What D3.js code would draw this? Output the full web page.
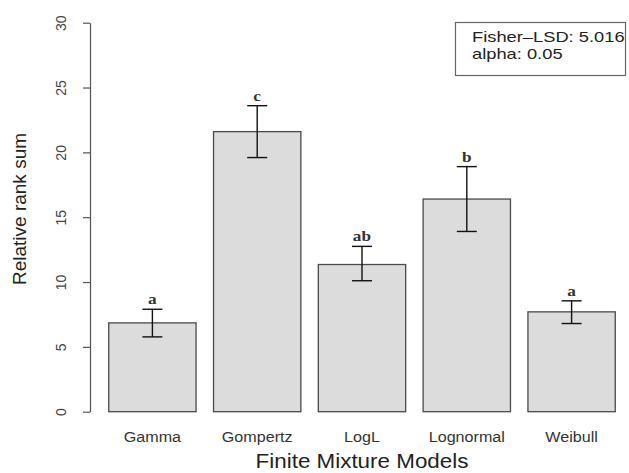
<!DOCTYPE html>
<html>
<head>
<meta charset="utf-8">
<script src="https://cdn.jsdelivr.net/npm/d3@7"></script>
<style>
  body { margin: 0; background: #fff; }
  svg { display: block; }
</style>
</head>
<body>
<svg id="chart" width="629" height="473"></svg>
<script>
// data
const models = ["Gamma", "Gompertz", "LogL", "Lognormal", "Weibull"];
const rankSum = [6.85, 21.6, 11.35, 16.4, 7.7];
const errLow = [5.77, 19.6, 10.1, 13.9, 6.8];
const errHigh = [7.9, 23.6, 12.75, 18.9, 8.55];
const groups = ["a", "c", "ab", "b", "a"];
const yTicks = [0, 5, 10, 15, 20, 25, 30];
const legendLines = ["Fisher\u2013LSD: 5.016", "alpha: 0.05"];

const sans = "Liberation Sans, Arial, Helvetica, sans-serif";
const svg = d3.select("#chart");

// the source picture has slightly wide glyphs, stretch text along its baseline
const widen = (sel, k) => sel.each(function () {
    const len = this.getComputedTextLength();
    d3.select(this).attr("textLength", len * k).attr("lengthAdjust", "spacingAndGlyphs");
});

const x = d3.scaleBand()
    .domain(models)
    .range([100, 624])
    .paddingInner(0.2 / 1.2)
    .paddingOuter(0.1 / 1.2);

const y = d3.scaleLinear()
    .domain([0, 30])
    .range([411.7, 22.7]);

const rows = models.map((m, i) => ({
    model: m, value: rankSum[i], lo: errLow[i], hi: errHigh[i], grp: groups[i]
}));

// y axis, R style: line only across tick range, rotated labels
const yAxis = svg.append("g")
    .attr("transform", "translate(90,0)")
    .call(d3.axisLeft(y).tickValues(yTicks).tickSize(7).tickSizeOuter(0));
yAxis.select(".domain").attr("stroke", "#555").attr("stroke-width", 1.2);
yAxis.selectAll(".tick line").attr("stroke", "#555").attr("stroke-width", 1.2);
yAxis.selectAll(".tick text")
    .attr("font-family", sans)
    .attr("font-size", 14)
    .attr("fill", "#444")
    .attr("x", null)
    .attr("text-anchor", "middle")
    .attr("transform", "translate(-29,0) rotate(-90)")
    .attr("dy", "0.35em");

svg.append("text")
    .attr("transform", "translate(26,209) rotate(-90)")
    .attr("text-anchor", "middle")
    .attr("font-family", sans)
    .attr("font-size", 19)
    .attr("fill", "#222")
    .text("Relative rank sum");

// bars
svg.append("g").selectAll("rect")
    .data(rows)
    .join("rect")
    .attr("x", d => x(d.model))
    .attr("y", d => y(d.value))
    .attr("width", x.bandwidth())
    .attr("height", d => y(0) - y(d.value))
    .attr("fill", "#dcdcdc")
    .attr("stroke", "#4a4a4a")
    .attr("stroke-width", 1.3);

// error bars
const eb = svg.append("g").attr("stroke", "#111").attr("stroke-width", 1.4);
rows.forEach(d => {
    const cx = x(d.model) + x.bandwidth() / 2;
    eb.append("line").attr("x1", cx).attr("x2", cx).attr("y1", y(d.lo)).attr("y2", y(d.hi));
    eb.append("line").attr("x1", cx - 10).attr("x2", cx + 10).attr("y1", y(d.lo)).attr("y2", y(d.lo));
    eb.append("line").attr("x1", cx - 10).attr("x2", cx + 10).attr("y1", y(d.hi)).attr("y2", y(d.hi));
});

// group letters
svg.append("g").selectAll("text")
    .data(rows)
    .join("text")
    .attr("x", d => x(d.model) + x.bandwidth() / 2)
    .attr("y", d => y(d.hi) - 5)
    .attr("text-anchor", "middle")
    .attr("font-family", "Liberation Serif, Times New Roman, serif")
    .attr("font-size", 15)
    .attr("font-weight", "bold")
    .attr("fill", "#333")
    .text(d => d.grp)
    .call(widen, 1.15);

// category labels
svg.append("g").selectAll("text")
    .data(models)
    .join("text")
    .attr("x", d => x(d) + x.bandwidth() / 2)
    .attr("y", 442)
    .attr("text-anchor", "middle")
    .attr("font-family", sans)
    .attr("font-size", 14)
    .attr("fill", "#333")
    .text(d => d)
    .call(widen, 1.15);

svg.append("text")
    .attr("x", 362)
    .attr("y", 468)
    .attr("text-anchor", "middle")
    .attr("font-family", sans)
    .attr("font-size", 20)
    .attr("fill", "#222")
    .text("Finite Mixture Models")
    .call(widen, 1.12);

// legend box
const lg = svg.append("g");
lg.append("rect")
    .attr("x", 455.5).attr("y", 22.5)
    .attr("width", 170).attr("height", 53)
    .attr("fill", "#fff")
    .attr("stroke", "#666")
    .attr("stroke-width", 1.2);
lg.selectAll("text")
    .data(legendLines)
    .join("text")
    .attr("x", 472)
    .attr("y", (d, i) => 42 + i * 17)
    .attr("font-family", sans)
    .attr("font-size", 15)
    .attr("fill", "#222")
    .text(d => d)
    .call(widen, 1.22);
</script>
</body>
</html>
